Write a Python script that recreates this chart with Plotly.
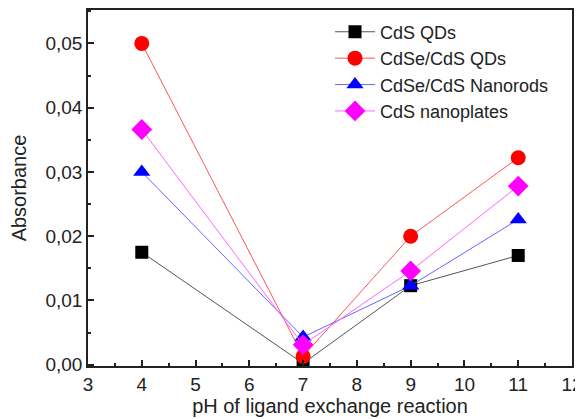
import plotly.graph_objects as go

ph = [4, 7, 9, 11]
cds_qds = [0.0175, 0.0002, 0.0123, 0.0170]
cdse_cds_qds = [0.0500, 0.0013, 0.0200, 0.0322]
cdse_cds_rods = [0.0300, 0.0043, 0.0123, 0.0226]
cds_plates = [0.0366, 0.0031, 0.0146, 0.0278]

series = [
    ("CdS QDs", cds_qds, "#000000", "#555555", "square", 13),
    ("CdSe/CdS QDs", cdse_cds_qds, "#ff0000", "#ff5555", "circle", 15),
    ("CdSe/CdS Nanorods", cdse_cds_rods, "#0000ff", "#6666ff", "triangle-up", 15),
    ("CdS nanoplates", cds_plates, "#ff00ff", "#ff66ff", "diamond", 16),
]

FONT = "Liberation Sans, Arial"
INK = "#222222"

fig = go.Figure()
for name, vals, mc, lc, sym, sz in series:
    fig.add_trace(go.Scatter(
        x=ph, y=vals, name=name, mode="lines+markers",
        line=dict(color=lc, width=1),
        marker=dict(symbol=sym, size=sz, color=mc, line=dict(width=0)),
    ))

axis_common = dict(
    showline=True, linecolor=INK, linewidth=1.5, mirror=True,
    ticks="inside", ticklen=6, tickwidth=1.5, tickcolor=INK,
    showgrid=False, zeroline=False,
    tickfont=dict(size=19, color=INK, family=FONT),
)

fig.update_xaxes(
    range=[3, 12], dtick=1,
    minor=dict(dtick=0.5, ticks="inside", ticklen=3, tickwidth=1.5, tickcolor=INK),
    title=dict(text="pH of ligand exchange reaction", standoff=3,
               font=dict(size=20, color=INK, family=FONT)),
    **axis_common,
)
fig.update_yaxes(
    range=[-0.0002, 0.0552], dtick=0.01, tickformat=".2f",
    minor=dict(dtick=0.005, ticks="inside", ticklen=3, tickwidth=1.5, tickcolor=INK),
    title=dict(text="Absorbance", standoff=14,
               font=dict(size=20, color=INK, family=FONT)),
    **axis_common,
)

fig.update_layout(
    width=575, height=411,
    margin=dict(l=80, r=11, t=2, b=53, autoexpand=False),
    separators=",.",
    plot_bgcolor="white", paper_bgcolor="white",
    font=dict(family=FONT, color=INK),
    legend=dict(x=0.5, y=0.99, xanchor="left", yanchor="top",
                bgcolor="rgba(0,0,0,0)", tracegroupgap=0, itemwidth=40,
                font=dict(size=18, color=INK, family=FONT)),
)

fig.write_html("out.html")
